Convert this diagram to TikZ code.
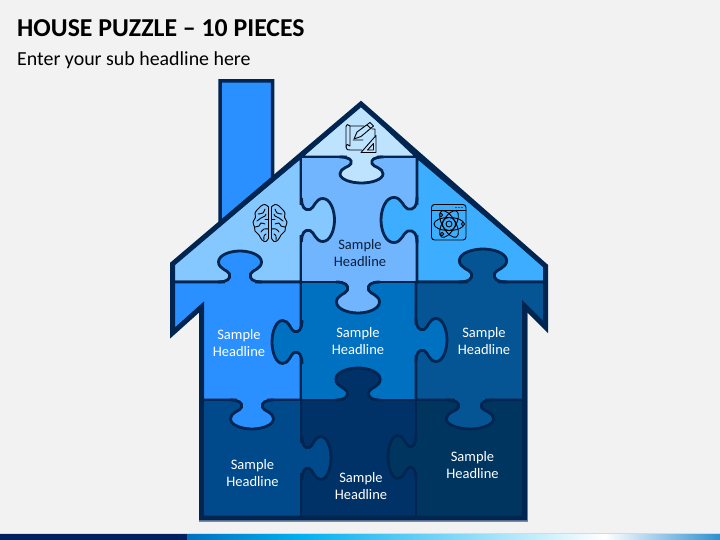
\documentclass[tikz,border=0pt]{standalone}
\usepackage{fontspec}
\setmainfont{Carlito}
\usetikzlibrary{positioning}
\definecolor{slidebg}{HTML}{F2F2F2}
\definecolor{edgeblue}{HTML}{002550}
\definecolor{rooftop}{HTML}{BDE3FF}
\definecolor{roofleft}{HTML}{85C8FF}
\definecolor{centertop}{HTML}{72B5FF}
\definecolor{roofright}{HTML}{3DAEFF}
\definecolor{midleft}{HTML}{2B90FF}
\definecolor{midcenter}{HTML}{0070C0}
\definecolor{midright}{HTML}{055595}
\definecolor{lowleft}{HTML}{004A8C}
\definecolor{lowcenter}{HTML}{003268}
\definecolor{lowright}{HTML}{003560}
\definecolor{barnavy}{HTML}{002060}
\definecolor{barsky}{HTML}{00B0F0}
\definecolor{barend}{HTML}{2E8FD0}
\definecolor{darktext}{HTML}{0B1F3A}
\tikzset{
  piece/.style={draw=edgeblue,line width=2.8pt,line join=round},
  shell/.style={draw=edgeblue,line width=5pt,line join=miter},
  icon/.style={draw=black,line width=0.9pt,line cap=round,line join=round},
  label/.style={align=center,font=\fontsize{14.5}{17}\selectfont,text=#1},
  label/.default=white
}
\begin{document}
\begin{tikzpicture}[x=1pt,y=-1pt]
    \useasboundingbox (0,0) rectangle (720,540);
    \fill[slidebg] (0,0) rectangle (720,540);
    \node[anchor=base west,inner sep=0pt,font=\bfseries\fontsize{25.8}{30}\selectfont] (title) at (17,37) {HOUSE PUZZLE – 10 PIECES};
    \node[anchor=base west,inner sep=0pt,font=\fontsize{19.9}{24}\selectfont] (subtitle) at (17,66) {Enter your sub headline here};

    \fill[black!15] (0,533) rectangle (720,534);
    \fill[barnavy] (0,534) rectangle (187,540);
    \fill[left color=midcenter,right color=barsky] (187,534) rectangle (300,540);
    \fill[left color=barsky,right color=white] (300,534) rectangle (605,540);
    \fill[left color=white,right color=barend] (605,534) rectangle (720,540);

    \filldraw[draw=edgeblue,line width=3.5pt,fill=midleft] (220,240)--(220,81)--(272.5,81)--(272.5,190)--cycle;

    \draw[black!25!slidebg!70!edgeblue,line width=1pt] (199,521)--(527.5,521)--(527.5,310);

    \filldraw[piece,fill=rooftop] (361,104)--(301,157)--(417,157)--cycle;
    \filldraw[piece,fill=roofleft] (301,157)--(301,282)--(172.5,282)--(172.5,264)--cycle;
    \filldraw[piece,fill=centertop] (301,157)--(417,157)--(417,282)--(301,282)--cycle;
    \filldraw[piece,fill=roofright] (417,157)--(545.5,266)--(545.5,282)--(417,282)--cycle;
    \filldraw[piece,fill=midleft] (172.5,282)--(301,282)--(301,400)--(201.5,400)--(201.5,307)--(172.5,333)--cycle;
    \filldraw[piece,fill=midcenter] (301,282)--(416,282)--(416,400)--(301,400)--cycle;
    \filldraw[piece,fill=midright] (416,282)--(545.5,282)--(545.5,327)--(524.5,306)--(524.5,400)--(416,400)--cycle;
    \filldraw[piece,fill=lowleft] (201.5,400)--(301,400)--(301,518)--(201.5,518)--cycle;
    \filldraw[piece,fill=lowcenter] (301,400)--(416,400)--(416,518)--(301,518)--cycle;
    \filldraw[piece,fill=lowright] (416,400)--(524.5,400)--(524.5,518)--(416,518)--cycle;

    \foreach \px/\py/\rot/\len/\wid/\col in {
      361.5/157/0/26/1/rooftop,301.5/220/90/33/1/roofleft,417/220/-90/36/1.05/roofright,
      358/282/0/31/1/centertop,240/282/180/31/1/midleft,483/282/180/33/1.1/midright,
      302/342/-90/30/1/midcenter,416/340/90/31/1/midcenter,358/400/180/32/1.03/lowcenter,
      252/400/0/29/1/midleft,470/400/0/29/1.1/midright,302/458/90/29/1/lowleft,416/457/-90/28/1/lowright}{
      \begin{scope}[shift={(\px,\py)},rotate=\rot]
        \fill[\col] (-15,-3) rectangle (15,1);
        \begin{scope}[xscale=\wid,yscale=\len/31]
          \filldraw[piece,fill=\col] (-22,0) .. controls (-13,0) and (-9,3) .. (-10.5,8)
            .. controls (-12,12) and (-21.5,13) .. (-21.5,20) .. controls (-21.5,27) and (-10,31) .. (0,31)
            .. controls (10,31) and (21.5,27) .. (21.5,20) .. controls (21.5,13) and (12,12) .. (10.5,8)
            .. controls (9,3) and (13,0) .. (22,0);
        \end{scope}
      \end{scope}
    }

    \draw[shell] (361,104)--(545.5,266)--(545.5,327)--(524.5,306)--(524.5,518)--(201.5,518)--(201.5,307)--(172.5,333)--(172.5,264)--cycle;

    \node[label=darktext] (headtop) at (360,253) {Sample\\Headline};
    \node[label] (headleft) at (239,343) {Sample\\Headline};
    \node[label] (headmid) at (358,341) {Sample\\Headline};
    \node[label] (headright) at (484,341) {Sample\\Headline};
    \node[label] (headlowleft) at (252.5,473) {Sample\\Headline};
    \node[label] (headlowmid) at (361,486) {Sample\\Headline};
    \node[label] (headlowright) at (472.5,465) {Sample\\Headline};

    \draw[icon] (346,127) .. controls (346,124) and (349,124) .. (350,126)--(350,146)
      .. controls (349,144) and (346,144) .. (346,147)--(346,127);
    \draw[icon] (350,126)--(364,126) (346,147) .. controls (346,150) and (348,150) .. (350,150)--(362,150)
      (372,129)--(375,129)--(375,136) (353,140)--(363,140);
    \draw[icon] (354,139)--(357,132)--(370,122.5)--(373.5,126)--(361,136.5)--cycle (367,125)--(371,128.5);
    \draw[icon] (361,152.5)--(376,135.5)--(376,152.5)--cycle (367.5,150)--(373.5,143.5)--(373.5,150)--cycle;

    \foreach \side in {1,-1}{
      \begin{scope}[shift={(270,0)},xscale=\side]
        \draw[icon] plot[smooth,tension=0.7] coordinates {(1.5,207)(5,204.5)(9,206)(12,209)(15,213)(14.5,217.5)(17,222)(15.5,227)(15,231)(11,235)(8,240)(4,241.5)(1.5,238)};
        \draw[icon] (1.5,207)--(1.5,238) (1.5,219)--(5,219);
        \draw[icon] plot[smooth] coordinates {(5,209)(7,213)(12,214)};
        \draw[icon] plot[smooth] coordinates {(4,214)(5,216)(9,218)(13,221)};
        \draw[icon] plot[smooth] coordinates {(5,224)(9,223)(11,226)(15,227)};
        \draw[icon] plot[smooth] coordinates {(1.5,229)(6,229)(9,232)};
        \draw[icon] plot[smooth] coordinates {(4,234)(6,236)(6,240)};
      \end{scope}
    }

    \draw[icon,rounded corners=3pt] (431.5,204.5) rectangle (466,240);
    \draw[icon] (431.5,210.5)--(466,210.5);
    \foreach \dotx in {456,459,462}{\fill[black] (\dotx,207.5) circle (0.6pt);}
    \foreach \tilt in {0,60,120}{
      \draw[icon,rotate around={\tilt:(449,224)}] (449,224) ellipse (15pt and 6.5pt);
    }
    \draw[icon] (449,224) circle (6.5pt);
    \draw[icon,fill=roofright] (449,224) circle (3pt);
    \draw[icon,fill=roofright] (441,215) circle (1.8pt) (463,224) circle (1.8pt) (442,234) circle (1.8pt);
\end{tikzpicture}
\end{document}
